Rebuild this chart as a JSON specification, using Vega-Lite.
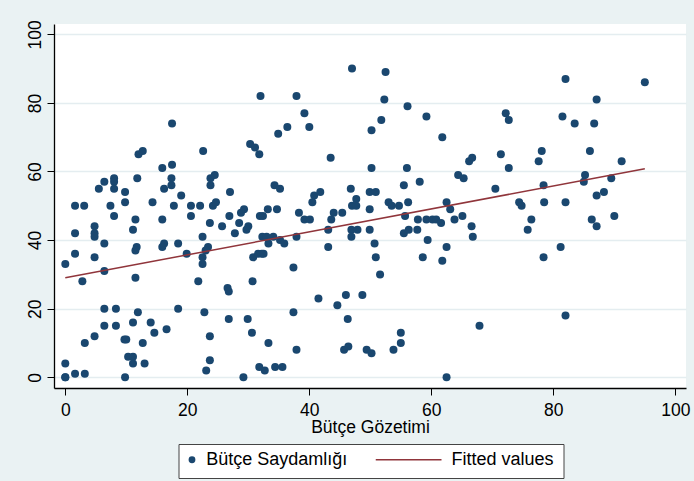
{
  "$schema": "https://vega.github.io/schema/vega-lite/v6.json",
  "width": 632,
  "height": 364,
  "autosize": {"type": "none"},
  "padding": {"left": 54, "top": 24, "right": 8, "bottom": 93},
  "background": "#eaf2f3",
  "config": {
    "view": {"fill": "white", "stroke": null},
    "font": "Liberation Sans",
    "axis": {
      "domainColor": "black",
      "domainWidth": 1.3,
      "tickColor": "black",
      "tickWidth": 1,
      "tickSize": 7,
      "labelFont": "Liberation Sans",
      "labelFontSize": 17.5,
      "labelColor": "black",
      "titleFont": "Liberation Sans",
      "titleFontSize": 17.5,
      "titleFontWeight": "normal",
      "titleColor": "black"
    }
  },
  "datasets": {
    "pts": [
      {"x":32,"y":82},{"x":17.5,"y":74},{"x":12,"y":65},{"x":12.7,"y":66},{"x":30.3,"y":68},{"x":31.1,"y":67},{"x":31.8,"y":65},{"x":22.6,"y":66},{"x":15.9,"y":61},{"x":17.5,"y":62},
      {"x":6.4,"y":57},{"x":5.5,"y":55},{"x":8,"y":58},{"x":8,"y":57},{"x":8,"y":55},{"x":9.8,"y":54},{"x":11.8,"y":58},{"x":17.4,"y":58},{"x":17.4,"y":56},{"x":16.2,"y":55},
      {"x":19,"y":53},{"x":23.8,"y":58},{"x":24.5,"y":59},{"x":23.8,"y":56},{"x":27,"y":54},{"x":1.6,"y":50},{"x":3.1,"y":50},{"x":7.4,"y":50},{"x":9.8,"y":51},{"x":14.3,"y":51},
      {"x":17.8,"y":50},{"x":20.6,"y":50},{"x":22.1,"y":50},{"x":24.2,"y":50},{"x":24.7,"y":51},{"x":29.3,"y":49},{"x":28.8,"y":48},{"x":26.9,"y":47},{"x":31.9,"y":47},{"x":8,"y":47},
      {"x":11.5,"y":46},{"x":15.9,"y":46},{"x":20.6,"y":47},{"x":23.7,"y":45},{"x":28.5,"y":45},{"x":30,"y":44},{"x":29.7,"y":43},{"x":27.8,"y":42},{"x":25.7,"y":44},{"x":4.8,"y":44},
      {"x":4.8,"y":42},{"x":4.8,"y":41},{"x":1.6,"y":42},{"x":6.4,"y":39},{"x":11.1,"y":43},{"x":11.7,"y":38},{"x":11.5,"y":37},{"x":16.2,"y":39},{"x":15.9,"y":38},{"x":18.5,"y":39},
      {"x":19.9,"y":36},{"x":22.5,"y":41},{"x":23.4,"y":38},{"x":23,"y":37},{"x":22.5,"y":35},{"x":22.5,"y":33},{"x":1.6,"y":36},{"x":4.8,"y":35},{"x":0,"y":33},{"x":6.4,"y":31},
      {"x":2.8,"y":28},{"x":11.5,"y":29},{"x":21.8,"y":28},{"x":26.6,"y":26},{"x":26.8,"y":25},{"x":30.7,"y":28},{"x":30.8,"y":35},{"x":31.6,"y":36},{"x":6.4,"y":20},{"x":8.3,"y":20},
      {"x":18.5,"y":20},{"x":11.9,"y":19},{"x":22.8,"y":19},{"x":6.4,"y":15},{"x":8.3,"y":15},{"x":11.1,"y":16},{"x":14,"y":16},{"x":14.6,"y":13},{"x":16.6,"y":14},{"x":4.8,"y":12},
      {"x":3.2,"y":10},{"x":9.7,"y":11},{"x":10,"y":11},{"x":12.7,"y":10},{"x":23.7,"y":12},{"x":26.8,"y":17},{"x":29.9,"y":17},{"x":30.6,"y":13},{"x":10.3,"y":6},{"x":11.1,"y":6},
      {"x":11.1,"y":4},{"x":13,"y":4},{"x":0,"y":4},{"x":1.6,"y":1},{"x":3.2,"y":1},{"x":0,"y":0},{"x":0,"y":0},{"x":9.8,"y":0},{"x":23.7,"y":5},{"x":23.1,"y":2},{"x":29.2,"y":0},{"x":31.8,"y":3},
      {"x":47,"y":90},{"x":52.5,"y":89},{"x":37.9,"y":82},{"x":52.3,"y":81},{"x":39.2,"y":77},{"x":56.1,"y":79},{"x":59.2,"y":76},{"x":51.8,"y":75},{"x":40,"y":73},{"x":36.4,"y":73},
      {"x":34.9,"y":71},{"x":50.2,"y":72},{"x":61.8,"y":70},{"x":43.5,"y":64},{"x":50.2,"y":61},{"x":56,"y":61},{"x":34.3,"y":56},{"x":35.2,"y":55},{"x":58.1,"y":57},{"x":55.5,"y":56},
      {"x":46.8,"y":55},{"x":40.8,"y":53},{"x":40.5,"y":51},{"x":41.8,"y":54},{"x":49.9,"y":54},{"x":50.9,"y":54},{"x":47.7,"y":52},{"x":47,"y":50},{"x":47.7,"y":50},{"x":49.9,"y":49},
      {"x":53,"y":51},{"x":53.5,"y":50},{"x":54.7,"y":50},{"x":56.2,"y":51},{"x":62.5,"y":51},{"x":63.1,"y":49},{"x":64.4,"y":59},{"x":33.2,"y":49},{"x":34.7,"y":49},{"x":32.4,"y":47},
      {"x":38.3,"y":48},{"x":44,"y":48},{"x":45.4,"y":48},{"x":55.7,"y":47},
      {"x":39.2,"y":46},{"x":40.1,"y":46},{"x":43.6,"y":46},{"x":43.1,"y":43},{"x":46.9,"y":43},{"x":47.9,"y":43},{"x":46.9,"y":41},{"x":49.9,"y":43},{"x":55.5,"y":42},{"x":56.3,"y":43},
      {"x":57.8,"y":46},{"x":59.2,"y":46},{"x":60.2,"y":46},{"x":60.8,"y":46},{"x":61.6,"y":45},{"x":63.8,"y":46},{"x":57.7,"y":43},{"x":59.4,"y":40},{"x":62.5,"y":38},{"x":58.6,"y":35},
      {"x":61.8,"y":34},{"x":43.1,"y":38},{"x":50.7,"y":39},{"x":50.9,"y":35},{"x":51.6,"y":30},{"x":37.9,"y":41},{"x":37.4,"y":32},{"x":32.3,"y":41},{"x":33,"y":41},{"x":33.3,"y":39},
      {"x":34.1,"y":41},{"x":35.2,"y":40},{"x":35.9,"y":39},{"x":32.2,"y":36},{"x":32.5,"y":36},{"x":41.5,"y":23},{"x":44.6,"y":21},{"x":46,"y":24},{"x":48.7,"y":24},{"x":46.3,"y":17},
      {"x":37.4,"y":19},{"x":33.3,"y":10},{"x":37.9,"y":8},{"x":45.7,"y":8},{"x":46.4,"y":9},{"x":49.4,"y":8},{"x":50.2,"y":7},{"x":53.8,"y":8},{"x":55,"y":13},{"x":55,"y":10},
      {"x":32.7,"y":2},{"x":34.4,"y":3},{"x":35.6,"y":3},{"x":62.5,"y":0},
      {"x":82,"y":87},{"x":95,"y":86},{"x":87.1,"y":81},{"x":72.2,"y":77},{"x":72.7,"y":75},{"x":81.5,"y":76},{"x":83.5,"y":74},{"x":86.7,"y":74},{"x":71.4,"y":65},{"x":78.1,"y":66},
      {"x":77.6,"y":63},{"x":86,"y":66},{"x":66.2,"y":63},{"x":66.7,"y":64},{"x":72.7,"y":61},{"x":91.2,"y":63},{"x":65.3,"y":58},{"x":85.2,"y":59},{"x":85,"y":57},{"x":89.5,"y":58},
      {"x":70.5,"y":55},{"x":78.4,"y":56},{"x":74.4,"y":51},{"x":74.8,"y":50},{"x":78.5,"y":51},{"x":82,"y":51},{"x":87.1,"y":53},{"x":88.3,"y":54},{"x":65.1,"y":47},{"x":76.4,"y":46},
      {"x":86.3,"y":46},{"x":90,"y":47},{"x":66.6,"y":44},{"x":66.8,"y":41},{"x":75.8,"y":43},{"x":87.1,"y":44},{"x":81.2,"y":38},{"x":78.4,"y":35},{"x":67.9,"y":15},{"x":82,"y":18}
    ],
    "fit": [
      {"x": 0, "y": 29.0},
      {"x": 95, "y": 60.8}
    ]
  },
  "layer": [
    {
      "data": {"name": "pts"},
      "mark": {"type": "circle", "size": 64, "opacity": 1},
      "encoding": {
        "x": {
          "field": "x", "type": "quantitative",
          "scale": {"domain": [-1.85, 101.75], "nice": false, "zero": false},
          "axis": {
            "values": [0, 20, 40, 60, 80, 100],
            "grid": false,
            "title": "Bütçe Gözetimi",
            "labelPadding": 6,
            "titleY": 44,
            "titleBaseline": "alphabetic"
          }
        },
        "y": {
          "field": "y", "type": "quantitative",
          "scale": {"domain": [-3.12, 103.0], "nice": false, "zero": false},
          "axis": {
            "values": [0, 20, 40, 60, 80, 100],
            "grid": true,
            "gridColor": "#e4edf0",
            "gridWidth": 1.5,
            "title": null,
            "labelAngle": -90,
            "labelAlign": "center",
            "labelBaseline": "alphabetic",
            "labelPadding": 7
          }
        },
        "color": {
          "datum": "Bütçe Saydamlığı",
          "type": "nominal",
          "scale": {"domain": ["Bütçe Saydamlığı", "Fitted values"], "range": ["#1a476f", "#90353b"]},
          "legend": {
            "title": null,
            "orient": "none",
            "legendX": 124.5,
            "legendY": 420,
            "direction": "horizontal",
            "padding": 9,
            "clipHeight": 13,
            "fillColor": "white",
            "strokeColor": "#444444",
            "labelFont": "Liberation Sans",
            "labelFontSize": 18,
            "labelColor": "black",
            "labelOffset": 7,
            "columnPadding": 28,
            "symbolOpacity": 1,
            "encode": {
              "symbols": {
                "update": {
                  "shape": {"signal": "datum.value === 'Fitted values' ? 'stroke' : 'circle'"},
                  "size": {"signal": "datum.value === 'Fitted values' ? 4356 : 46"},
                  "x": {"signal": "datum.value === 'Fitted values' ? 33 : 4.5"},
                  "fill": {"signal": "datum.value === 'Fitted values' ? 'transparent' : '#1a476f'"},
                  "stroke": {"signal": "datum.value === 'Fitted values' ? '#90353b' : 'transparent'"},
                  "strokeWidth": {"signal": "datum.value === 'Fitted values' ? 1.5 : 0"},
                  "opacity": {"value": 1}
                }
              },
              "labels": {
                "update": {
                  "x": {"signal": "datum.value === 'Fitted values' ? 76 : 18.8"}
                }
              }
            }
          }
        }
      }
    },
    {
      "data": {"name": "fit"},
      "mark": {"type": "line", "strokeWidth": 1.5},
      "encoding": {
        "x": {"field": "x", "type": "quantitative"},
        "y": {"field": "y", "type": "quantitative"},
        "color": {"datum": "Fitted values", "type": "nominal"}
      }
    }
  ]
}
